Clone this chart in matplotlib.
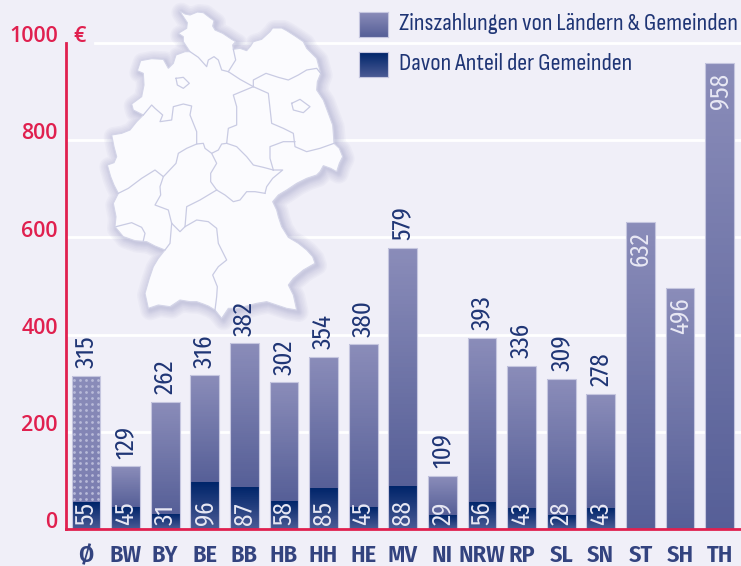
import numpy as np
import matplotlib
matplotlib.use("Agg")
import matplotlib.pyplot as plt
from matplotlib.patches import Polygon, Rectangle
from matplotlib.transforms import Affine2D
from matplotlib.colors import LinearSegmentedColormap

states = ["Ø", "BW", "BY", "BE", "BB", "HB", "HH", "HE", "MV", "NI", "NRW", "RP", "SL", "SN", "ST", "SH", "TH"]
totals = [315, 129, 262, 316, 382, 302, 354, 380, 579, 109, 393, 336, 309, 278, 632, 496, 958]
gemeinden = [55, 45, 31, 96, 87, 58, 85, 45, 88, 29, 56, 43, 28, 43, 0, 0, 0]
yticks = [0, 200, 400, 600, 800, 1000]

# map traced by hand, coordinates are in 3x crop pixels
outline = [(268,32),(285,42),(300,45),(322,36),(340,38),(358,52),(372,62),(368,78),(375,90),(398,100),
           (410,108),(425,118),(437,125),(428,135),(430,148),(450,145),(470,152),(482,138),(490,125),(515,118),
           (540,95),(548,84),(575,84),(590,92),(615,108),(640,125),(650,145),(680,175),(692,220),(682,245),
           (680,270),(700,300),(715,340),(728,375),(730,400),(732,430),(748,445),(758,470),(748,490),(740,515),
           (722,505),(700,497),(690,515),(680,525),(650,535),(620,550),(590,570),(565,585),(548,605),(560,630),
           (565,650),(575,680),(595,712),(625,730),(650,750),(668,770),(675,790),(640,810),(610,835),(595,855),
           (610,885),(620,930),(590,925),(560,915),(530,905),(500,910),(470,918),(440,925),(415,925),(395,955),
           (375,930),(355,918),(340,912),(320,905),(300,905),(270,900),(240,920),(205,915),(175,925),(165,880),
           (178,835),(190,800),(205,775),(225,750),(195,738),(170,725),(135,722),(100,710),(75,680),(78,650),
           (70,610),(85,580),(72,555),(62,530),(52,495),(72,488),(80,470),(72,440),(65,405),(95,400),
           (120,390),(140,365),(160,345),(130,330),(125,312),(155,290),(162,255),(160,220),(142,212),(152,182),
           (185,176),(220,178),(235,205),(250,190),(258,165),(285,155),(300,155),(280,125),(280,110),(265,100),
           (290,85),(292,68)]
borders = [
    [(300,155),(325,172),(350,200),(355,180),(372,170),(385,180),(395,210),(415,215),(450,238),(490,260)],
    [(430,148),(437,180),(415,215)],
    [(490,260),(490,240),(528,220),(565,232),(595,240),(625,225),(650,210),(680,205),(692,220)],
    [(490,260),(535,280),(540,325),(545,370),(580,385),(610,400),(615,440),(650,455),(690,445),(732,430)],
    [(490,260),(430,285),(440,320),(440,375),(415,385),(410,430)],
    [(410,430),(440,440),(470,470),(490,495),(520,502),(550,510)],
    [(550,510),(540,475),(540,440),(580,425),(615,425)],
    [(550,510),(578,510),(548,535),(530,560),(525,580)],
    [(525,580),(495,575),(470,575),(450,600),(430,605),(405,585),(380,570)],
    [(380,570),(362,545),(362,520),(380,490),(365,460),(385,450),(395,432),(410,430)],
    [(365,460),(345,445),(340,430),(320,432),(320,395),(300,345),(305,318),(280,312),(250,320),(245,360),(210,365),(218,345),(195,325),(185,315),(160,345)],
    [(320,432),(290,445),(265,460),(258,490),(225,525),(220,530),(195,510),(155,535),(115,565),(85,580)],
    [(220,530),(210,560),(212,585),(195,615),(235,630),(245,670)],
    [(380,570),(330,600),(290,620),(285,680),(270,695),(245,670)],
    [(285,680),(320,660),(355,665),(380,685),(385,730),(410,780),(385,800),(368,825),(382,860),(380,890),(375,930)],
    [(245,670),(240,730),(225,750)],
    [(78,680),(125,668),(155,682),(165,700),(160,722)],
    [(258,235),(280,232),(298,250),(280,265),(262,255),(258,235)],
    [(605,310),(630,298),(660,320),(640,338),(610,330),(605,310)],
]

bg = "#f0eff8"
red = "#e0204f"
navy = "#1f3575"
light = LinearSegmentedColormap.from_list("light", ["#8a8cb9", "#565f97"])
avg = LinearSegmentedColormap.from_list("avg", ["#8a8cb9", "#7a7db0"])
dark = LinearSegmentedColormap.from_list("dark", ["#00256a", "#4a5a94"])
grad = np.linspace(0, 1, 64).reshape(-1, 1)

W, H = 741, 566
y0, y1000 = 529, 43
top = y0 / ((y0 - y1000) / 1000)
narrow = ["Fira Sans Condensed", "Sofia Sans Condensed", "DejaVu Sans"]

plt.rcParams["font.family"] = narrow
fig = plt.figure(figsize=(W / 100, H / 100), dpi=100, facecolor=bg)
ax = fig.add_axes([66 / W, (H - y0) / H, (W - 66) / W, y0 / H], facecolor=bg)

for t in yticks[1:]:
    ax.axhline(t, xmin=29 / (W - 66) if t == 1000 else 0, color="white", lw=2, zorder=1)

# map in pixel space, the glow is just wider and wider see-through strokes
px = Affine2D().scale(1 / 3, -1 / 3).translate(90, H)
glow = Affine2D().scale(1 / 3, -1 / 3).translate(92, H - 2)
for lw in [20, 17, 14, 11, 8, 6, 4, 2]:
    ax.add_patch(Polygon(outline, closed=True, transform=glow, fc="none", ec="#8f91c0", lw=lw * 0.72,
                         alpha=0.06, joinstyle="round", zorder=2, clip_on=False))
ax.add_patch(Polygon(outline, closed=True, transform=px, fc="#fbfbfe", ec="#d4d5e8", lw=0.8, zorder=3, clip_on=False))
for b in borders:
    xs, ys = zip(*b)
    ax.plot(xs, ys, transform=px, color="#c9cbe3", lw=0.9, zorder=4, clip_on=False)


def gradient_bar(i, lo, hi, cmap, z):
    # vertical gradient, one row per step, dark end goes to the bottom
    ax.pcolormesh([i - width / 2, i + width / 2], np.linspace(lo, hi, 65), grad[::-1], cmap=cmap,
                  vmin=0, vmax=1, zorder=z)


width = 0.73
for i, (t, g) in enumerate(zip(totals, gemeinden)):
    gradient_bar(i, g, t, avg if i == 0 else light, 5)
    if g:
        gradient_bar(i, 0, g, dark, 6)
    ax.add_patch(Rectangle((i - width / 2, 0), width, t, fc="none", ec="#c5c6df", lw=0.8, zorder=7))
    if i == 0:
        # dotted pattern on the average bar
        dx = np.arange(-2, 3) * 6 / 39.6
        dy = np.arange(g + 6, t - 2, 12.3)
        xx, yy = np.meshgrid(dx, dy)
        ax.scatter(xx.ravel(), yy.ravel(), s=4, color="#b8bad8", lw=0, zorder=8)
    if t >= 490 and g == 0:
        ax.annotate(str(t), (i, t), xytext=(0, -7), textcoords="offset points", rotation=90,
                    ha="center", va="top", color="#e8e8f4", fontsize=18, zorder=9)
    else:
        ax.annotate(str(t), (i, t), xytext=(0, 5.5), textcoords="offset points", rotation=90,
                    ha="center", va="bottom", color=navy, fontsize=18, zorder=9)
    if g:
        ax.annotate(str(g), (i, 0), xytext=(0, 3), textcoords="offset points", rotation=90,
                    ha="center", va="bottom", color="#e8e8f4", fontsize=18, zorder=9)

ax.set_xlim((66 - 86) / 39.6, (W - 86) / 39.6)
ax.set_ylim(0, top)
ax.set_xticks(range(len(states)))
ax.set_xticklabels(states, fontsize=17.5, fontweight="semibold", color="#33437f")
ax.tick_params(axis="x", length=0, pad=11)
ax.set_yticks([])

for s in ["top", "right"]:
    ax.spines[s].set_visible(False)
for s in ["left", "bottom"]:
    ax.spines[s].set_color(red)
    ax.spines[s].set_linewidth(2)
    ax.spines[s].set_zorder(10)
ax.spines["left"].set_bounds(0, 1000)

for t in yticks:
    ax.annotate(str(t), (0, t), xycoords=("axes fraction", "data"), xytext=(-6, 4.5), textcoords="offset points",
                ha="right", va="center", color=red, fontsize=15.5, fontweight="semibold", family="Open Sans",
                annotation_clip=False)
ax.annotate("€", (0, 1000), xycoords=("axes fraction", "data"), xytext=(5, 4.5), textcoords="offset points",
            ha="left", va="center", color=red, fontsize=15.5, fontweight="semibold", family="Open Sans",
            annotation_clip=False)

# legend, placed by hand
for y_top, cm, label in [(12, light, "Zinszahlungen von Ländern & Gemeinden"), (52, dark, "Davon Anteil der Gemeinden")]:
    lax = fig.add_axes([359 / W, (H - y_top - 25) / H, 29 / W, 25 / H])
    lax.imshow(grad, cmap=cm, aspect="auto")
    lax.set_xticks([])
    lax.set_yticks([])
    for s in lax.spines.values():
        s.set_color("#c5c6df")
    fig.text(399 / W, (H - y_top - 12) / H, label, color=navy, fontsize=17.8, va="center", ha="left",
             family=["Sofia Sans Condensed", "DejaVu Sans"])

fig.savefig("out.png", dpi=100, facecolor=bg)
